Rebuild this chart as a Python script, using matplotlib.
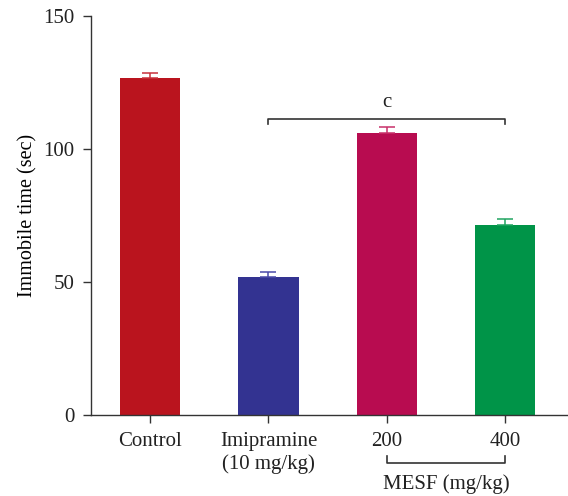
import matplotlib.pyplot as plt

# immobility time by treatment group
groups = ["Control", "Imipramine\n(10 mg/kg)", "200", "400"]
means = [126.7, 51.9, 106.0, 71.4]
errors = [1.8, 2.0, 2.2, 2.3]
colors = ["#BA141E", "#333391", "#B80C50", "#009448"]
err_colors = ["#C8323C", "#4A4AA8", "#C8306A", "#20A460"]

plt.rcParams["font.family"] = ["Liberation Serif", "DejaVu Serif"]
plt.rcParams["font.size"] = 15

fig = plt.figure(figsize=(5.68, 4.96), dpi=100)
ax = fig.add_axes([0.160, 0.163, 0.838, 0.805])

x = range(len(groups))
ax.bar(x, means, width=0.51, color=colors, zorder=2)
for xi, m, e, c in zip(x, means, errors, err_colors):
    ax.errorbar(xi, m, yerr=[[0], [e]], color=c, capsize=5.5, elinewidth=1.1,
                capthick=1.1, zorder=3)

ax.set_xlim(-0.5, 3.52)
ax.set_ylim(0, 150)
ax.set_yticks([0, 50, 100, 150])
ax.set_xticks(list(x))
ax.set_xticklabels(groups, linespacing=1.25)
ax.set_ylabel("Immobile time (sec)", labelpad=4, fontsize=14.5)

for side in ["top", "right"]:
    ax.spines[side].set_visible(False)
for side in ["left", "bottom"]:
    ax.spines[side].set_color("#333333")
    ax.spines[side].set_linewidth(1.0)
ax.tick_params(direction="out", length=6, width=1.0, color="#333333",
               labelcolor="#222222", pad=6)

# significance bracket
yb = 111.3
ax.plot([1, 1, 3, 3], [yb - 1.8, yb, yb, yb - 1.8], color="#333333", lw=1.2,
        clip_on=False)
ax.text(2, yb + 2.5, "c", ha="center", va="bottom", color="#222222")

# group bracket under the dose labels
trans = ax.get_xaxis_transform()
ax.plot([2, 2, 3, 3], [-0.103, -0.120, -0.120, -0.103], color="#333333",
        lw=1.2, transform=trans, clip_on=False)
ax.text(2.5, -0.173, "MESF (mg/kg)", ha="center", va="center",
        transform=trans, color="#222222")

fig.savefig("out.png", dpi=100)
